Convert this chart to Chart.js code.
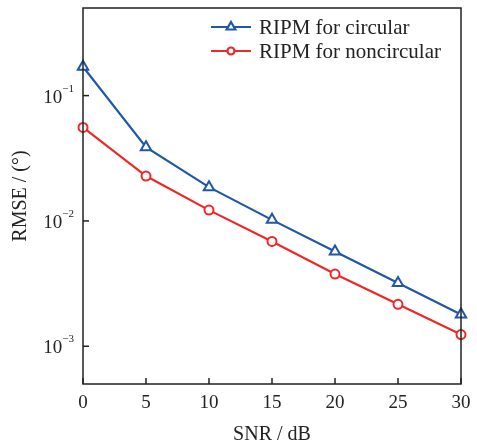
<!DOCTYPE html>
<html>
<head>
    <title>RMSE vs SNR</title>
    <script src="https://cdn.jsdelivr.net/npm/chart.js@4/dist/chart.umd.min.js"></script>
    <style>
        body { margin: 0; background: #fff; }
        #wrap { width: 477px; height: 445px; }
    </style>
</head>
<body>
    <div id="wrap"><canvas id="myChart" width="477" height="445"></canvas></div>

    <script>
        var snr = [0, 5, 10, 15, 20, 25, 30];
        var rmseCircular = [0.170, 0.0387, 0.0186, 0.0102, 0.0057, 0.0032, 0.00179];
        var rmseNoncircular = [0.0557, 0.0228, 0.0122, 0.00686, 0.00377, 0.00216, 0.00124];
        var xTicks = [0, 5, 10, 15, 20, 25, 30];
        var yTickExps = [-3, -2, -1];

        var blue = 'rgb(33, 87, 168)';
        var red = 'rgb(236, 40, 40)';
        var ink = '#222';
        var serif = '"Liberation Serif", "Times New Roman", serif';

        // axes box, inward ticks, labels with superscript exponents, legend
        var axesPlugin = {
            id: 'axesPlugin',
            afterDraw: function (chart) {
                var c = chart.ctx;
                var a = chart.chartArea;
                var xs = chart.scales.x, ys = chart.scales.y;
                c.save();
                c.strokeStyle = ink;
                c.lineWidth = 1.5;
                c.strokeRect(a.left, a.top, a.right - a.left, a.bottom - a.top);

                c.fillStyle = ink;
                c.font = '19px ' + serif;
                c.textAlign = 'center';
                c.textBaseline = 'top';
                xTicks.forEach(function (t) {
                    var px = xs.getPixelForValue(t);
                    c.beginPath();
                    c.moveTo(px, a.bottom);
                    c.lineTo(px, a.bottom - 6);
                    c.stroke();
                    c.fillText(String(t), px, a.bottom + 10);
                });

                yTickExps.forEach(function (e) {
                    var py = ys.getPixelForValue(Math.pow(10, e));
                    c.beginPath();
                    c.moveTo(a.left, py);
                    c.lineTo(a.left + 6, py);
                    c.stroke();
                    c.font = '11px ' + serif;
                    c.textAlign = 'right';
                    c.textBaseline = 'alphabetic';
                    var exp = String(e).replace('-', '\u2212');
                    var ew = c.measureText(exp).width;
                    c.fillText(exp, a.left - 9, py - 4);
                    c.font = '19px ' + serif;
                    c.fillText('10', a.left - 9 - ew, py + 7);
                });

                c.font = '20px ' + serif;
                c.textAlign = 'center';
                c.textBaseline = 'alphabetic';
                c.fillText('SNR / dB', (a.left + a.right) / 2, 440);
                c.save();
                c.translate(26, (a.top + a.bottom) / 2);
                c.rotate(-Math.PI / 2);
                c.fillText('RMSE / (\u00b0)', 0, 0);
                c.restore();

                // legend
                c.font = '21px ' + serif;
                c.textAlign = 'left';
                c.textBaseline = 'middle';
                chart.data.datasets.forEach(function (ds, i) {
                    var ly = 27 + i * 24;
                    c.strokeStyle = ds.borderColor;
                    c.fillStyle = '#fff';
                    c.lineWidth = 2.2;
                    c.beginPath();
                    c.moveTo(211, ly);
                    c.lineTo(251, ly);
                    c.stroke();
                    Chart.helpers.drawPoint(c, {
                        pointStyle: ds.pointStyle,
                        radius: ds.pointStyle === 'triangle' ? 5 : 3.5,
                        borderWidth: 2
                    }, 231, ly);
                    c.fillStyle = ink;
                    c.fillText(ds.label, 259, ly + 1);
                });
                c.restore();
            }
        };

        var ctx = document.getElementById('myChart').getContext('2d');
        var chart = new Chart(ctx, {
            type: 'line',
            data: {
                labels: snr,
                datasets: [{
                    label: 'RIPM for circular',
                    data: rmseCircular,
                    borderColor: blue,
                    backgroundColor: '#fff',
                    borderWidth: 2.2,
                    pointStyle: 'triangle',
                    pointRadius: 6,
                    pointBorderWidth: 2,
                    tension: 0,
                    clip: false
                }, {
                    label: 'RIPM for noncircular',
                    data: rmseNoncircular,
                    borderColor: red,
                    backgroundColor: '#fff',
                    borderWidth: 2.2,
                    pointStyle: 'circle',
                    pointRadius: 4.5,
                    pointBorderWidth: 2,
                    tension: 0,
                    clip: false
                }]
            },
            options: {
                responsive: false,
                animation: false,
                layout: { padding: { left: 0, top: 6, right: 16, bottom: 0 } },
                plugins: { legend: { display: false }, tooltip: { enabled: false } },
                scales: {
                    x: {
                        type: 'linear',
                        min: 0,
                        max: 30,
                        grid: { display: false },
                        border: { display: false },
                        ticks: { display: false },
                        afterFit: function (s) { s.height = 61; }
                    },
                    y: {
                        type: 'logarithmic',
                        min: 0.0005,
                        max: 0.5,
                        grid: { display: false },
                        border: { display: false },
                        ticks: { display: false },
                        afterFit: function (s) { s.width = 83; }
                    }
                }
            },
            plugins: [axesPlugin]
        });
    </script>
</body>
</html>
